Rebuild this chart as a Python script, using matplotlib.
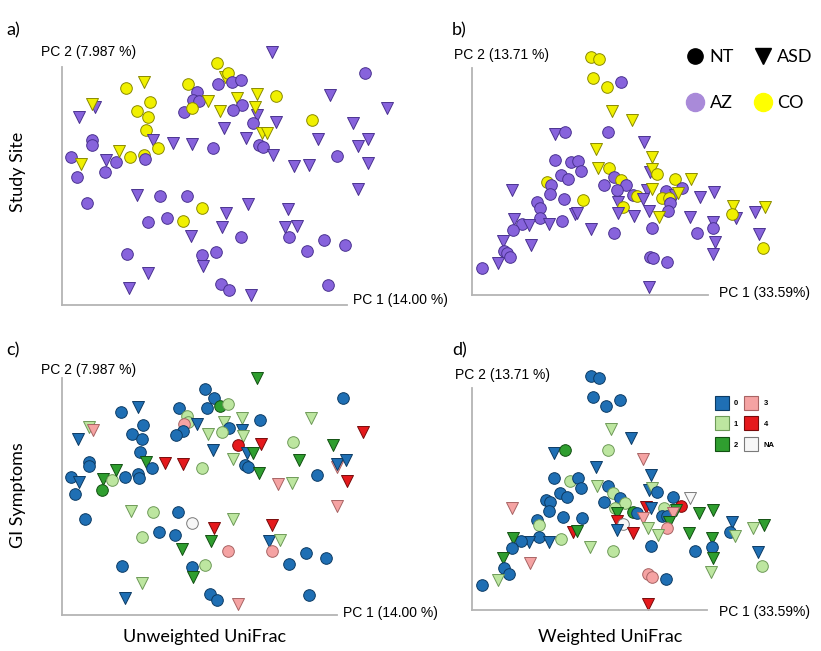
import matplotlib.pyplot as plt
from matplotlib.lines import Line2D

# Points, in the scale of each panel's ordination plot
# (x grows to the right, y grows downwards).

# a) unweighted UniFrac, coloured by study site
a_x = [635, 470, 495, 503, 475, 515, 542, 915, 197, 252,
       385, 410, 270, 105, 95, 58, 232, 265, 400, 418,
       445, 373, 397, 480, 532, 590, 647, 545, 520, 590,
       585, 578, 648, 810, 980, 755, 880, 493, 258, 95,
       95, 278, 340, 397, 295, 458, 557, 605, 622, 597,
       608, 640, 773, 925, 895, 830, 925, 703, 748, 33,
       62, 50, 138, 168, 178, 210, 252, 255, 135, 893,
       82, 230, 300, 380, 425, 497, 563, 684, 263, 320,
       370, 487, 675, 712, 392, 542, 686, 792, 855, 740,
       200, 425, 468, 430, 265, 207, 483, 507, 573, 803]
a_y = [35, 70, 110, 100, 133, 125, 120, 100, 145, 127,
       133, 157, 185, 200, 193, 230, 213, 232, 180, 182,
       183, 217, 205, 213, 175, 163, 168, 195, 210, 225,
       200, 250, 247, 165, 205, 240, 250, 265, 270, 300,
       315, 300, 310, 313, 325, 325, 295, 280, 280, 315,
       322, 345, 297, 297, 318, 348, 368, 378, 375, 352,
       372, 410, 360, 365, 332, 352, 345, 358, 395, 447,
       490, 465, 467, 468, 503, 520, 493, 508, 545, 533,
       543, 560, 560, 557, 588, 590, 592, 600, 615, 633,
       641, 645, 635, 677, 698, 744, 732, 750, 764, 735]
a_shape = ("vovoooooov" "ooovvvoooo" "voovvvooov" "vovvvovvoo" "ovvvoovvvo"
           "ovvvvovvvo" "vovovoooov" "ovooovvvoo" "ovvvvooooo" "ooovvvoovo")
a_site = ("PYYYPPPPYY" "YPYPYPYYPP" "YPYYYYYPPP" "YPPPPYPPYP" "PPPPYPPYYP"
          "PPPPPPPPPP" "YPPPYYYPPP" "PPPPYPPPPP" "YPPPPPPPPP" "PPPPPPPPPP")

# b) weighted UniFrac, coloured by study site
b_x = [453, 478, 460, 500, 543, 515, 575, 505, 345, 376,
       612, 468, 637, 345, 392, 415, 423, 473, 507, 630,
       637, 652, 362, 383, 320, 332, 330, 372, 428, 493,
       523, 543, 557, 530, 533, 550, 535, 705, 753, 727,
       677, 705, 713, 667, 688, 690, 683, 620, 635, 580,
       590, 610, 582, 628, 658, 750, 780, 822, 635, 770,
       818, 820, 825, 818, 880, 887, 877, 945, 975, 958,
       970, 630, 640, 680, 627, 217, 292, 300, 300, 365,
       328, 405, 410, 222, 245, 268, 218, 188, 272, 193,
       200, 210, 173, 125, 453, 522]
b_y = [52, 57, 115, 142, 125, 213, 240, 277, 283, 275,
       305, 328, 352, 360, 367, 362, 392, 385, 385, 395,
       388, 402, 405, 418, 425, 435, 462, 477, 480, 435,
       410, 420, 435, 450, 485, 502, 520, 417, 418, 445,
       452, 465, 458, 475, 475, 490, 512, 450, 447, 465,
       468, 477, 527, 512, 532, 530, 470, 455, 565, 580,
       545, 565, 605, 643, 497, 535, 523, 515, 502, 583,
       625, 650, 655, 665, 740, 450, 487, 503, 535, 543,
       553, 523, 518, 537, 552, 555, 570, 603, 615, 632,
       640, 652, 668, 683, 568, 580]
b_shape = ("ooooovvovo" "vvvoooovov" "vooooooooo" "oooovovovo" "ovvoooovvo"
           "ovvvvvvvoo" "vovvvvovvv" "oooovvoooo" "vvvvovovvo" "oovovo")
b_site = ("YYYYPYYPPP" "PYYPPPPYYP" "YYPPYPPPYP" "PYPPPYPYYP" "PPYYYPPPYP"
          "YPPPYPPPPP" "PPPPYPYPYP" "YPPPPPPPPP" "PPPPPPPPPP" "PPPPPP")

# c) unweighted UniFrac, coloured by GI symptom score
c_x = [590, 435, 850, 463, 480, 503, 440, 182, 233, 358,
       380, 385, 372, 412, 368, 347, 445, 493, 507, 485,
       250, 215, 247, 88, 98, 55, 547, 600, 753, 545,
       550, 535, 602, 700, 818, 910, 240, 258, 275, 315,
       368, 427, 458, 518, 560, 578, 555, 565, 597, 718,
       772, 832, 832, 858, 860, 653, 695, 830, 88, 88,
       32, 57, 45, 128, 125, 155, 167, 196, 233, 237,
       75, 213, 280, 355, 397, 463, 520, 245, 297, 345,
       452, 365, 505, 635, 627, 660, 637, 688, 737, 797,
       185, 395, 435, 400, 247, 195, 450, 470, 535, 747]
c_y = [55, 87, 115, 115, 138, 133, 145, 157, 142, 145,
       167, 185, 193, 193, 212, 225, 223, 185, 203, 217,
       195, 223, 237, 202, 210, 237, 173, 180, 175, 210,
       227, 255, 253, 247, 255, 215, 277, 305, 325, 310,
       312, 323, 270, 297, 280, 280, 315, 320, 340, 300,
       345, 320, 313, 300, 363, 373, 370, 437, 305, 318,
       350, 367, 403, 357, 390, 360, 330, 350, 343, 355,
       477, 453, 455, 457, 490, 505, 477, 530, 517, 525,
       542, 567, 572, 495, 543, 540, 572, 612, 578, 593,
       618, 620, 615, 650, 670, 715, 703, 720, 733, 705]
c_shape = ("vooooooovo" "ooovoovvoo" "ooovvvvovv" "vovovvovov" "vovvvvoovv"
           "ovvvvvvvoo" "ovovoovooo" "ovooovvooo" "vvovvvoooo" "ooovvvoovo")
c_gi = ("GBBBGLBBBB" "LLKBBBLLBL" "BBBLKBLBLB" "LRRLGRBGBR" "RLBLBGBBGG"
        "BKBBRKLKBB" "BBBGGLGBBB" "BLLBWRLLBB" "GGKRBLKBBB" "BBLGLBBBKB")

# d) weighted UniFrac, coloured by GI symptom score
d_x = [452, 477, 460, 497, 540, 513, 572, 343, 375, 503,
       610, 467, 633, 343, 390, 413, 422, 470, 505, 628,
       635, 652, 360, 382, 318, 330, 328, 370, 427, 215,
       520, 540, 555, 492, 525, 530, 530, 548, 532, 580,
       590, 618, 633, 608, 700, 750, 723, 672, 708, 665,
       680, 698, 688, 680, 625, 655, 580, 747, 778, 818,
       877, 870, 885, 940, 972, 815, 815, 820, 813, 765,
       633, 953, 967, 625, 637, 677, 623, 290, 297, 398,
       410, 362, 297, 327, 267, 243, 220, 215, 450, 518,
       270, 188, 192, 208, 173, 125]
d_y = [47, 53, 110, 138, 120, 208, 235, 278, 270, 270,
       298, 322, 345, 353, 362, 355, 385, 377, 377, 390,
       385, 395, 398, 412, 420, 427, 453, 470, 473, 443,
       400, 415, 430, 427, 445, 460, 483, 493, 510, 455,
       460, 440, 443, 473, 410, 413, 437, 445, 450, 468,
       467, 460, 485, 505, 505, 525, 520, 520, 460, 450,
       485, 515, 527, 505, 495, 535, 560, 595, 635, 573,
       558, 577, 618, 643, 650, 658, 733, 480, 495, 515,
       513, 537, 530, 545, 547, 543, 533, 563, 560, 572,
       610, 593, 625, 643, 660, 675]
d_shape = ("ooooovvvoo" "vvvoooovov" "voooooooov" "ooooovvovo" "ovvvovoovo"
           "ovvovvvvvv" "vovvvvovvo" "ovoooovoov" "voovvovovo" "vvoovo")
d_gi = ("BBBBBLBBGL" "KBBBLBBLBB" "LBBBBBBBBK" "LBLBLGRWBG" "BRBKBWRLGB"
        "BKGKLLRGGG" "BBLLGGBGLB" "BBLKKBRBLR" "GLBBBBGBLL" "KGBBLB")

site_colors = {"P": ("#8763dc", "#4a3290"), "Y": ("#f0f000", "#8a8a00")}
gi_colors = {"B": ("#1f6fb4", "#0c3b64"), "L": ("#bde6a0", "#6e9a58"),
             "G": ("#2f9e2f", "#125012"), "K": ("#f5a3a3", "#a86464"),
             "R": ("#e5191c", "#780a0a"), "W": ("#f7f7f7", "#7a7a7a")}
gi_labels = ["0", "1", "2", "3", "4", "NA"]
gi_keys = ["B", "L", "G", "K", "R", "W"]

W, H = 821, 651
fig = plt.figure(figsize=(W / 100, H / 100), dpi=100)


def fxy(x, y):
    return x / W, 1 - y / H


def panel(box, xlim, ylim, xs, ys, shapes, groups, palette, xlab, xlab_at, ylab, ylab_at):
    x0, y0, x1, y1 = box
    ax = fig.add_axes([x0 / W, 1 - y1 / H, (x1 - x0) / W, (y1 - y0) / H])
    ax.patch.set_visible(False)
    for x, y, m, g in zip(xs, ys, shapes, groups):
        face, edge = palette[g]
        ax.scatter(x, y, marker=m, s=70 if m == "o" else 74, c=face,
                   edgecolors=edge, linewidths=0.7, clip_on=False)
    ax.set_xlim(xlim)
    ax.set_ylim(ylim)
    ax.set_xticks([])
    ax.set_yticks([])
    for side in ["top", "right"]:
        ax.spines[side].set_visible(False)
    for side in ["left", "bottom"]:
        ax.spines[side].set_color("#b4b4b4")
        ax.spines[side].set_linewidth(1.3)
    fig.text(*fxy(*xlab_at), xlab, ha="left", va="center", fontsize=10,
             family="Liberation Sans")
    fig.text(*fxy(*ylab_at), ylab, ha="left", va="center", fontsize=10,
             family="Liberation Sans")
    return ax


panel((62, 67, 347, 305), (6, 861), (795, 81), a_x, a_y, a_shape, a_site, site_colors,
      "PC 1 (14.00 %)", (353, 300), "PC 2 (7.987 %)", (41, 52))
panel((472, 68, 708, 295), (96, 804), (765, 84), b_x, b_y, b_shape, b_site, site_colors,
      "PC 1 (33.59%)", (719, 293), "PC 2 (13.71 %)", (454, 55))
panel((62, 378, 337, 615), (6, 831), (765, 54), c_x, c_y, c_shape, c_gi, gi_colors,
      "PC 1 (14.00 %)", (343, 613), "PC 2 (7.987 %)", (41, 370))
panel((472, 388, 707, 610), (96, 801), (750, 84), d_x, d_y, d_shape, d_gi, gi_colors,
      "PC 1 (33.59%)", (719, 612), "PC 2 (13.71 %)", (455, 375))

# study site / group legend (panel b)
handles = [Line2D([], [], ls="none", marker="o", ms=11, color="black"),
           Line2D([], [], ls="none", marker="o", ms=13, color="#a98ad9"),
           Line2D([], [], ls="none", marker="v", ms=12, color="black"),
           Line2D([], [], ls="none", marker="o", ms=13, color="#ffff00")]
fig.legend(handles, ["NT", "AZ", "ASD", "CO"], ncol=2, frameon=False,
           loc="upper left", bbox_to_anchor=fxy(668, 33), handletextpad=0.2,
           columnspacing=1.0, labelspacing=1.65, handlelength=1.2,
           prop={"family": "Lato", "size": 13})

# GI symptom legend (panel d)
gi_handles = [Line2D([], [], ls="none", marker="s", ms=9.5, markerfacecolor=gi_colors[k][0],
                     markeredgecolor=gi_colors[k][1], markeredgewidth=0.8) for k in gi_keys]
fig.legend(gi_handles, gi_labels, ncol=2, frameon=False, loc="upper left",
           bbox_to_anchor=fxy(708, 393), handletextpad=0.7, columnspacing=0.8,
           labelspacing=1.75, handlelength=1.8,
           prop={"family": "Liberation Sans", "size": 5.5, "weight": "bold"})

big = {"family": "Lato", "size": 13}
fig.text(*fxy(6, 30), "a)", ha="left", va="center", **big)
fig.text(*fxy(452, 30), "b)", ha="left", va="center", **big)
fig.text(*fxy(6, 350), "c)", ha="left", va="center", **big)
fig.text(*fxy(452, 350), "d)", ha="left", va="center", **big)
fig.text(*fxy(18, 172), "Study Site", rotation=90, ha="center", va="center", **big)
fig.text(*fxy(18, 495), "GI Symptoms", rotation=90, ha="center", va="center", **big)
fig.text(*fxy(205, 637), "Unweighted UniFrac", ha="center", va="center", **big)
fig.text(*fxy(610, 637), "Weighted UniFrac", ha="center", va="center", **big)

fig.savefig("out.png", dpi=100)
